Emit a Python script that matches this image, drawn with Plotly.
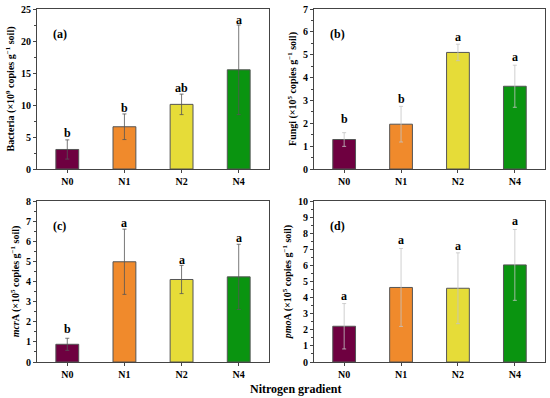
import plotly.graph_objects as go

categories = ["N0", "N1", "N2", "N4"]
colors = ["#6E0040", "#F08A2C", "#E6DC38", "#0A9410"]

bact = [3.05, 6.6, 10.1, 15.5]
bact_err = [1.5, 2.0, 1.6, 7.0]
bact_lab = ["b", "b", "ab", "a"]
bact_lab_y = [5.6, 9.5, 12.7, 23.3]

fungi = [1.29, 1.96, 5.1, 3.62]
fungi_err = [0.3, 0.78, 0.36, 0.92]
fungi_lab = ["b", "b", "a", "a"]
fungi_lab_y = [2.2, 3.07, 5.78, 4.92]

mcra = [0.88, 4.98, 4.1, 4.23]
mcra_err = [0.3, 1.62, 0.7, 1.62]
mcra_lab = ["b", "a", "a", "a"]
mcra_lab_y = [1.66, 6.92, 5.06, 6.17]

pmoa = [2.22, 4.63, 4.58, 6.03]
pmoa_err = [1.41, 2.42, 2.2, 2.2]
pmoa_lab = ["a", "a", "a", "a"]
pmoa_lab_y = [4.1, 7.57, 7.2, 8.78]

panels = [
    dict(y=bact, e=bact_err, lab=bact_lab, laby=bact_lab_y, ymax=25, dt=5,
         title="Bacteria (×10<sup>9</sup> copies g<sup>−1</sup> soil)", tag="(a)", ecol="#555555"),
    dict(y=fungi, e=fungi_err, lab=fungi_lab, laby=fungi_lab_y, ymax=7, dt=1,
         title="Fungi (×10<sup>5</sup> copies g<sup>−1</sup> soil)", tag="(b)", ecol="#c4c4c4"),
    dict(y=mcra, e=mcra_err, lab=mcra_lab, laby=mcra_lab_y, ymax=8, dt=1,
         title="<i>mcr</i>A (×10<sup>5</sup> copies g<sup>−1</sup> soil)", tag="(c)", ecol="#555555"),
    dict(y=pmoa, e=pmoa_err, lab=pmoa_lab, laby=pmoa_lab_y, ymax=10, dt=1,
         title="<i>pmo</i>A (×10<sup>5</sup> copies g<sup>−1</sup> soil)", tag="(d)", ecol="#c4c4c4"),
]

W, H = 550, 398


def fx(px):
    return px / W


def fy(py):
    return (H - py) / H


xdoms = [[fx(37), fx(269)], [fx(314), fx(545)]]
ydoms = [[fy(169), fy(9)], [fy(362), fy(201)]]

FONT = "Liberation Serif"
fig = go.Figure()
layout = dict(width=W, height=H, margin=dict(l=0, r=0, t=0, b=0, autoexpand=False),
              plot_bgcolor="white", paper_bgcolor="white", showlegend=False,
              bargap=0.6, font=dict(family=FONT, color="black"))
annotations = []

for i, p in enumerate(panels):
    n = i + 1
    xa = "x" if n == 1 else f"x{n}"
    ya = "y" if n == 1 else f"y{n}"
    fig.add_trace(go.Bar(
        x=categories, y=p["y"], xaxis=xa, yaxis=ya,
        marker=dict(color=colors, line=dict(color="#555555", width=1)),
        error_y=dict(type="data", array=p["e"], visible=True,
                     color=p["ecol"], thickness=0.8, width=2),
        hoverinfo="skip"))
    row, col = divmod(i, 2)
    axcommon = dict(showline=True, linecolor="#444444", linewidth=1, mirror=True,
                    ticks="outside", ticklen=3, tickcolor="#444444", automargin=False,
                    tickfont=dict(family=FONT, size=10, weight="bold", color="black"),
                    showgrid=False, zeroline=False)
    layout["xaxis" if n == 1 else f"xaxis{n}"] = dict(
        axcommon, domain=xdoms[col], anchor=ya, range=[-0.53, 3.53],
        type="category",
        minor=dict(ticks="outside", ticklen=2, tickcolor="#444444", showgrid=False))
    layout["yaxis" if n == 1 else f"yaxis{n}"] = dict(
        axcommon, domain=ydoms[row], anchor=xa, range=[0, p["ymax"]],
        dtick=p["dt"], tick0=0,
        minor=dict(ticks="outside", ticklen=2, tickcolor="#444444", dtick=p["dt"] / 2),
        title=dict(text=p["title"], standoff=4,
                   font=dict(family=FONT, size=10, weight="bold", color="black")))
    for c, ly, lt in zip(categories, p["laby"], p["lab"]):
        annotations.append(dict(x=c, y=ly, xref=xa, yref=ya, text=f"<b>{lt}</b>",
                                showarrow=False, font=dict(family=FONT, size=12, color="black")))
    annotations.append(dict(x=0.06, y=0.9, xref=f"{xa} domain", yref=f"{ya} domain",
                            xanchor="left", text=f"<b>{p['tag']}</b>", showarrow=False,
                            font=dict(family=FONT, size=12, color="black")))

annotations.append(dict(x=fx(295), y=fy(389), xref="paper", yref="paper",
                        yanchor="middle",
                        text="<b>Nitrogen gradient</b>", showarrow=False,
                        font=dict(family=FONT, size=12, color="black")))
layout["annotations"] = annotations
fig.update_layout(**layout)
fig.write_html("out.html", config={"displayModeBar": False},
               post_script="document.body.style.margin='0px';")
